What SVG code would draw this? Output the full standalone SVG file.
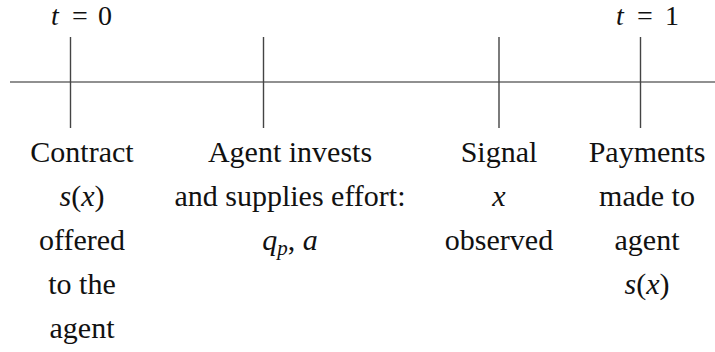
<svg xmlns="http://www.w3.org/2000/svg" width="715" height="352" viewBox="0 0 715 352">
  <style>
    text { font-size: 30px; fill: #111; text-anchor: middle; }
    .m { font-style: italic; }
    .top { font-size: 28px; }
    .ax { stroke: #222; stroke-width: 1.2; fill: none; }
    .tick { stroke: #444; stroke-width: 1.4; fill: none; }
  </style>
  <rect width="715" height="352" fill="#fff"/>
  <g id="connectors">
    <line class="ax" x1="10" y1="82" x2="715" y2="82"/>
  </g>
  <g id="event-contract" font-family="serif">
    <line class="tick" x1="70.5" y1="37" x2="70.5" y2="128"/>
    <text class="top" y="25"><tspan class="m" x="55">t</tspan><tspan x="80">=</tspan><tspan x="105">0</tspan></text>
    <text x="82" y="161.5">Contract</text>
    <text x="82" y="205.5"><tspan class="m">s</tspan>(<tspan class="m">x</tspan>)</text>
    <text x="82" y="249.5">offered</text>
    <text x="82" y="293.5">to the</text>
    <text x="82" y="337.5">agent</text>
  </g>
  <g id="event-invest" font-family="serif">
    <line class="tick" x1="263.5" y1="37" x2="263.5" y2="128"/>
    <text x="290" y="161.5">Agent invests</text>
    <text x="290" y="205.5">and supplies effort:</text>
    <text x="290" y="249.5"><tspan class="m">q</tspan><tspan class="m" font-size="21" dy="5">p</tspan><tspan dy="-5">, </tspan><tspan class="m">a</tspan></text>
  </g>
  <g id="event-signal" font-family="serif">
    <line class="tick" x1="499" y1="37" x2="499" y2="128"/>
    <text x="499" y="161.5">Signal</text>
    <text class="m" x="499" y="205.5">x</text>
    <text x="499" y="249.5">observed</text>
  </g>
  <g id="event-payment" font-family="serif">
    <line class="tick" x1="640.5" y1="37" x2="640.5" y2="128"/>
    <text class="top" y="25"><tspan class="m" x="620">t</tspan><tspan x="645">=</tspan><tspan x="672">1</tspan></text>
    <text x="647" y="161.5">Payments</text>
    <text x="647" y="205.5">made to</text>
    <text x="647" y="249.5">agent</text>
    <text x="647" y="293.5"><tspan class="m">s</tspan>(<tspan class="m">x</tspan>)</text>
  </g>
</svg>
